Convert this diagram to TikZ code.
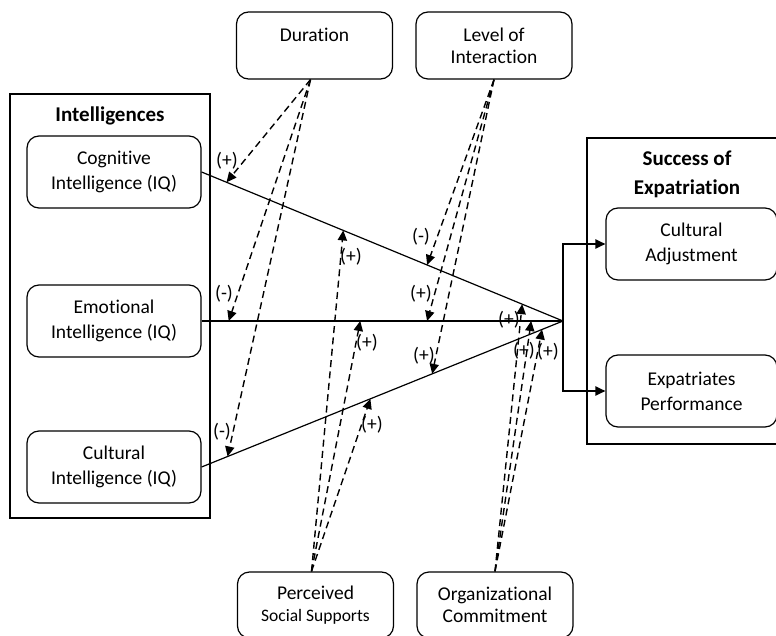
\documentclass[tikz,border=0pt]{standalone}
\usepackage{fontspec}
\setmainfont[Ligatures=NoCommon]{Carlito}
\usetikzlibrary{arrows.meta,calc}

\begin{document}
\begin{tikzpicture}[x=0.5pt,y=-0.5pt,
  every node/.style={font=\fontsize{9.75}{12.5}\selectfont},
  varbox/.style={draw,rounded corners=6pt,line width=0.6pt,align=center,
    minimum width=87pt,minimum height=36pt,inner sep=0pt},
  modbox/.style={varbox,minimum width=78pt,minimum height=33.5pt,
    font=\fontsize{9.75}{11}\selectfont},
  groupbox/.style={draw,line width=0.7pt},
  title/.style={font=\fontsize{10.5}{14.5}\selectfont\bfseries,align=center},
  effect/.style={line width=0.6pt},
  moder/.style={dash pattern=on 3.5pt off 2.2pt,line width=0.7pt,
    -{Triangle[length=5pt,width=4.6pt]}},
  outcome/.style={line width=0.9pt,-{Triangle[length=5pt,width=4.6pt]}},
  sign/.style={inner sep=0pt}]
  \useasboundingbox (0,0) rectangle (776,636);

  % group frames
  \draw[groupbox] (10,94) rectangle (210,518);
  \node[title] (intel) at (110,116) {Intelligences};
  \draw[groupbox] (587,138) rectangle (790,444);
  \node[title] (succ) at (687,174.5) {Success of\\Expatriation};

  % variables
  \node[varbox] (cog) at (114,172) {Cognitive\\Intelligence (IQ)};
  \node[varbox] (emo) at (114,321) {Emotional\\Intelligence (IQ)};
  \node[varbox] (cul) at (114,467) {Cultural\\Intelligence (IQ)};
  \node[varbox,minimum width=85.5pt] (adj) at (691.5,244) {Cultural\\Adjustment};
  \node[varbox,minimum width=85.5pt] (perf) at (691.5,391) {Expatriates\\Performance};

  % moderators
  \node[modbox] (dur) at (314.5,45.5) {Duration\\\phantom{Interaction}};
  \node[modbox] (lev) at (494,45.5) {Level of\\Interaction};
  \node[modbox,minimum height=33pt] (pss) at (315.5,605)
    {Perceived\\{\fontsize{8.75}{10}\selectfont Social Supports}};
  \node[modbox,minimum height=33pt] (orc) at (495,605) {Organizational\\Commitment};

  % main effects
  \coordinate (hub) at (563,321);
  \draw[effect] (cog.east) -- (hub);
  \draw[effect] (emo.east) -- (hub);
  \draw[effect] (cul.east) -- (hub);
  \draw[outcome] (hub) |- (adj.west);
  \draw[outcome] (hub) |- (perf.west);

  % points hit by the moderators
  \coordinate (dur1) at ($(cog.east)!0.069!(hub)$);
  \coordinate (dur2) at ($(emo.east)!0.075!(hub)$);
  \coordinate (dur3) at ($(cul.east)!0.072!(hub)$);
  \coordinate (lev1) at ($(cog.east)!0.624!(hub)$);
  \coordinate (lev2) at ($(emo.east)!0.624!(hub)$);
  \coordinate (lev3) at ($(cul.east)!0.638!(hub)$);
  \coordinate (pss1) at ($(cog.east)!0.392!(hub)$);
  \coordinate (pss2) at ($(emo.east)!0.439!(hub)$);
  \coordinate (pss3) at ($(cul.east)!0.467!(hub)$);
  \coordinate (orc1) at ($(cog.east)!0.887!(hub)$);
  \coordinate (orc2) at ($(emo.east)!0.912!(hub)$);
  \coordinate (orc3) at ($(cul.east)!0.942!(hub)$);

  \draw[moder] ([xshift=-2pt]dur.south) -- (dur1);
  \draw[moder] ([xshift=-2pt]dur.south) -- (dur2);
  \draw[moder] ([xshift=-2pt]dur.south) -- (dur3);
  \draw[moder] (lev.south) -- (lev1);
  \draw[moder] (lev.south) -- (lev2);
  \draw[moder] (lev.south) -- (lev3);
  \draw[moder] ([xshift=-2pt]pss.north) -- (pss1);
  \draw[moder] ([xshift=-2pt]pss.north) -- (pss2);
  \draw[moder] ([xshift=-2pt]pss.north) -- (pss3);
  \draw[moder] (orc.north) -- (orc1);
  \draw[moder] (orc.north) -- (orc2);
  \draw[moder] (orc.north) -- (orc3);

  % signs
  \node[sign] (sdur1) at (227,161) {(+)};
  \node[sign] (sdur2) at (224,294) {(-)};
  \node[sign] (sdur3) at (222,432) {(-)};
  \node[sign] (slev1) at (421,237) {(-)};
  \node[sign] (slev2) at (421,294) {(+)};
  \node[sign] (slev3) at (424,356) {(+)};
  \node[sign] (spss1) at (351,257) {(+)};
  \node[sign] (spss2) at (367,343) {(+)};
  \node[sign] (spss3) at (372,425) {(+)};
  \node[sign] (sorc1) at (509,320) {(+)};
  \node[sign] (sorc2) at (524,351) {(+)};
  \node[sign] (sorc3) at (548,352) {(+)};
\end{tikzpicture}
\end{document}
